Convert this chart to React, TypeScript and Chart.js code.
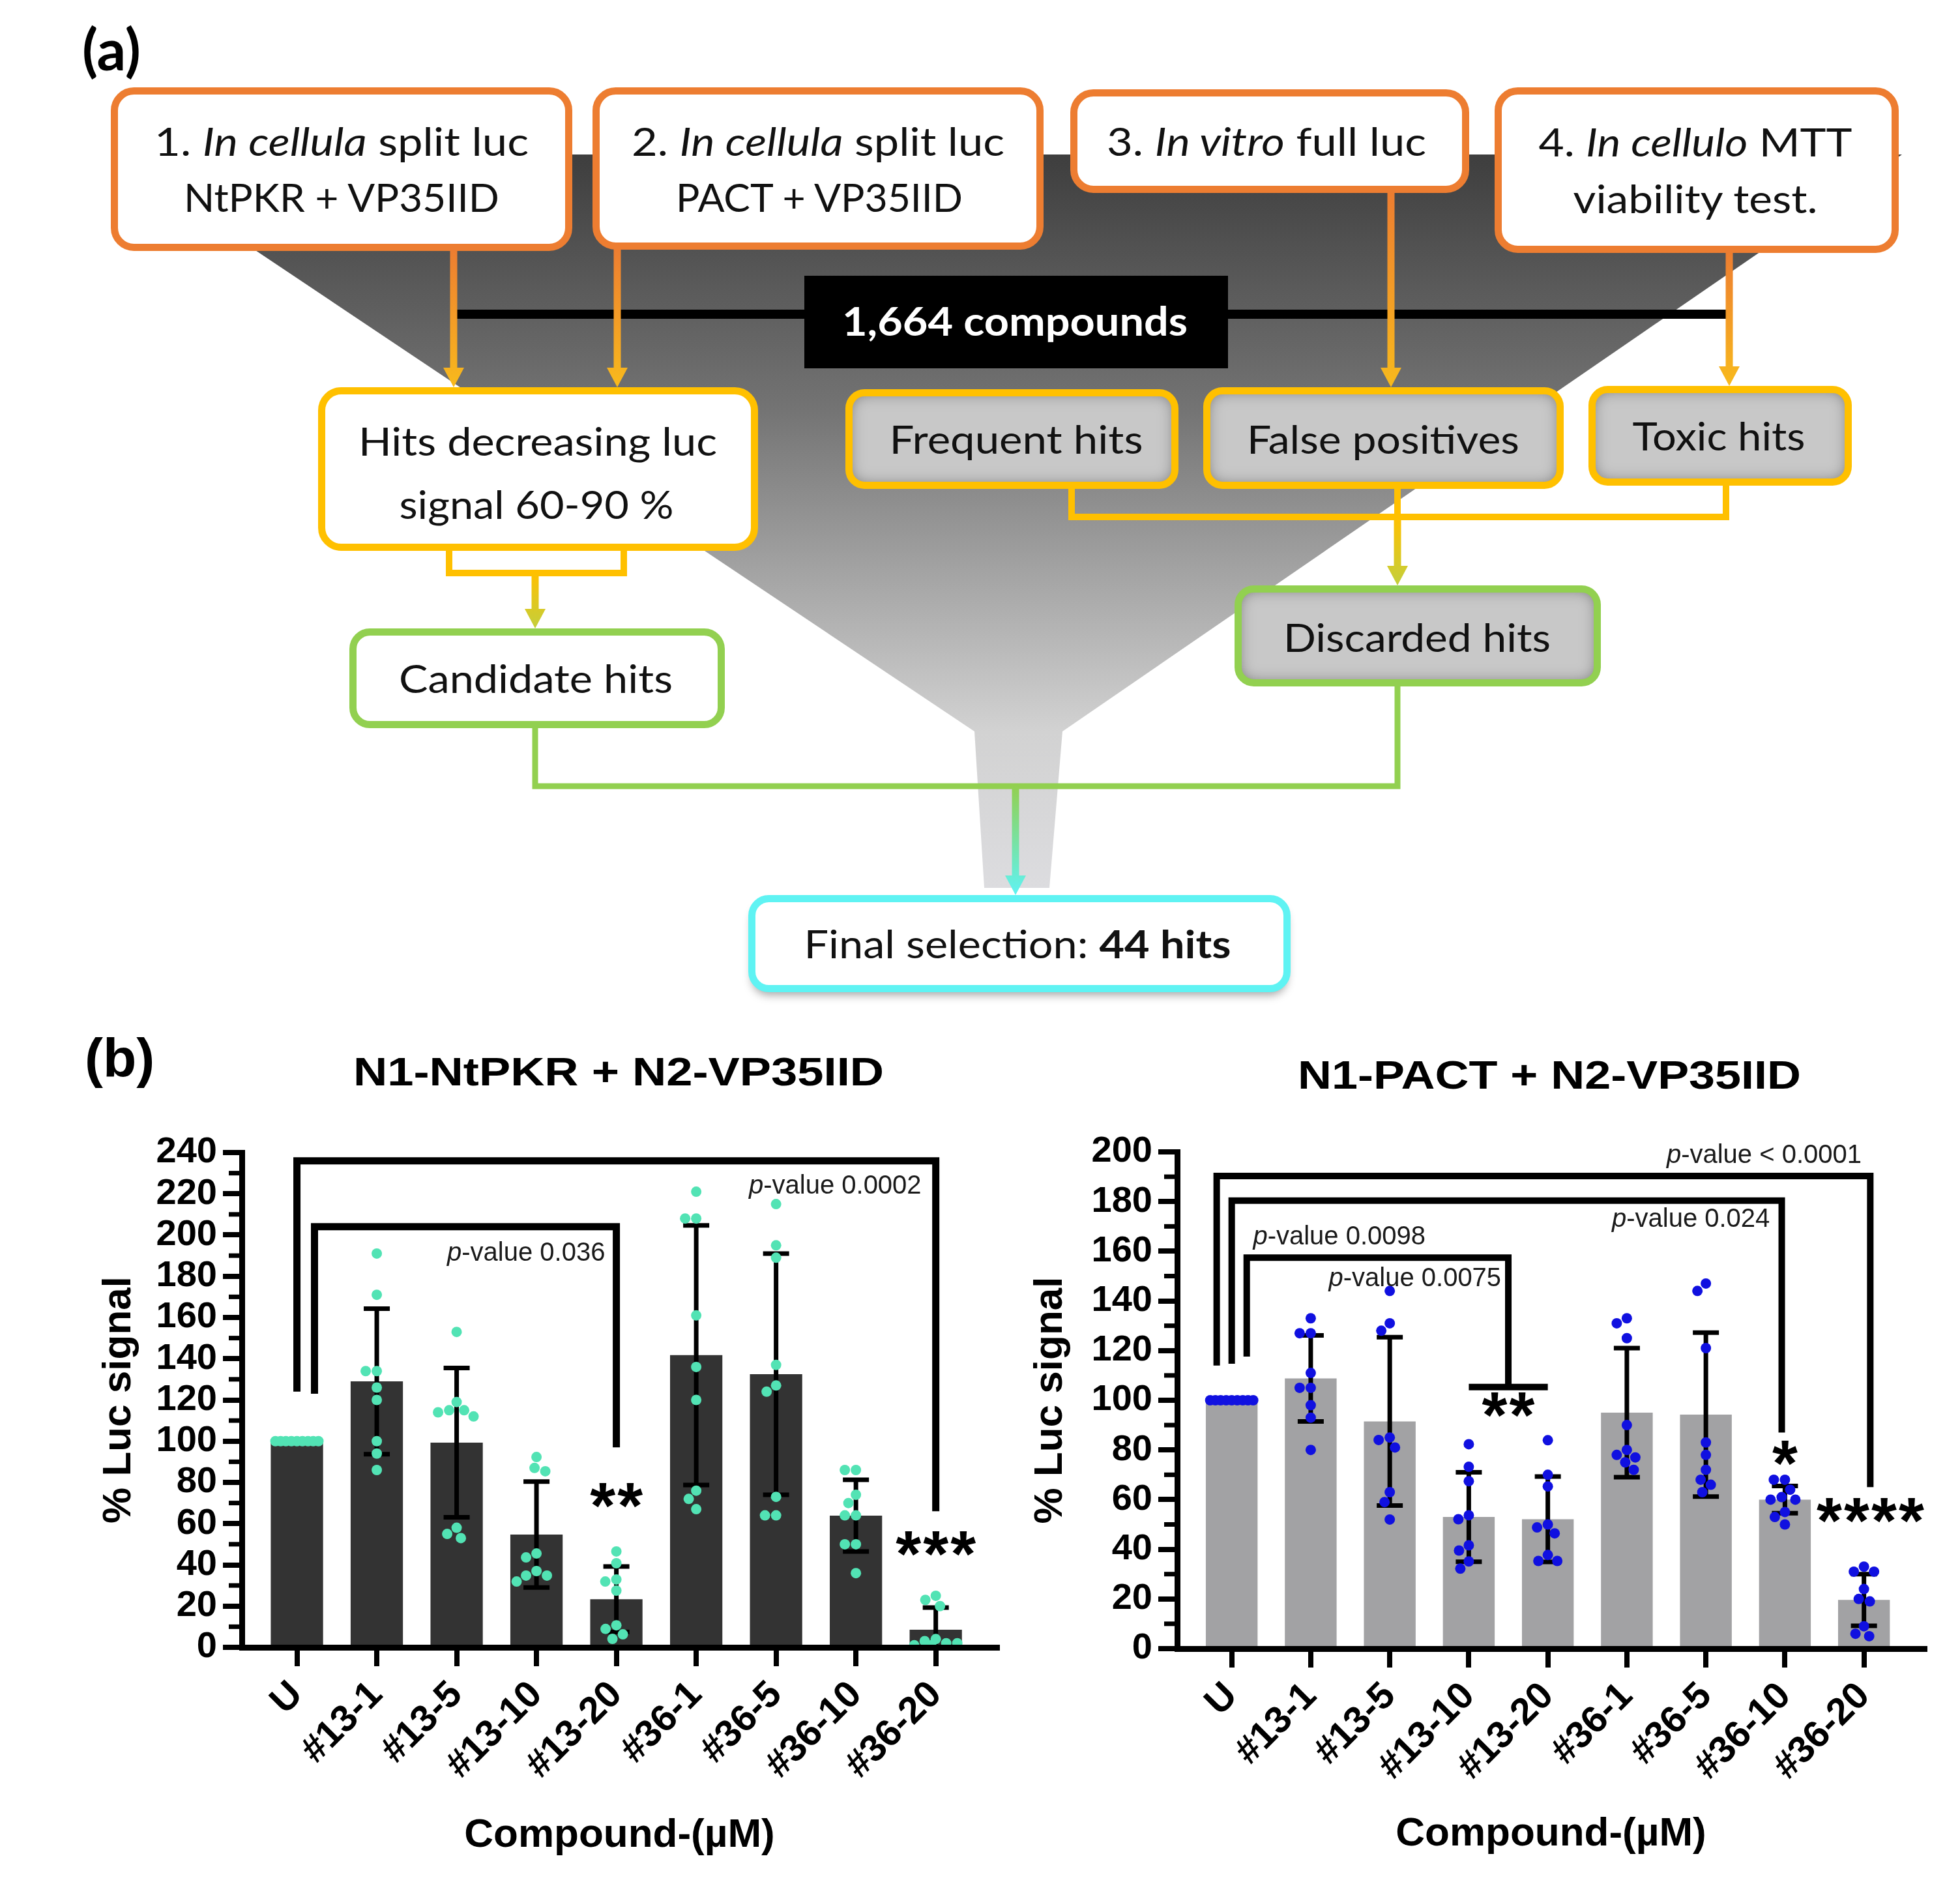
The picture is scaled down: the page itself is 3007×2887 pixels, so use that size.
import React, { useEffect, useRef } from 'react';
import { Chart, registerables } from 'chart.js';

Chart.register(...registerables);

const FONT = "'Liberation Sans', Arial, Helvetica, sans-serif";
const LATO = "Lato, 'Open Sans', sans-serif";

// ---------------- data ----------------
const categories = ['U', '#13-1', '#13-5', '#13-10', '#13-20', '#36-1', '#36-5', '#36-10', '#36-20'];

// N1-NtPKR + N2-VP35IID
const ntpkrMeans = [100, 129, 99.3, 54.7, 23.3, 141.7, 132.5, 63.9, 8.5];
const ntpkrSD = [0, 35.3, 36.2, 25.7, 15.9, 63, 58.5, 17.4, 10.8];
const ntpkrDots = [
  [100, 100, 100, 100, 100, 100, 100, 100, 100],
  [191, 171, 134, 134, 126, 120, 100, 94, 86],
  [153, 119, 115, 115, 114, 112, 58, 55, 53],
  [92.3, 87, 85.4, 45.5, 43.6, 37, 34.8, 34.8, 31.9],
  [46.5, 40.8, 32.9, 31.9, 27.5, 10.7, 8.9, 6.3, 4.1],
  [221, 208, 208, 161, 136, 120, 76, 72, 67],
  [215, 195, 189, 137, 127, 124, 73, 64, 64],
  [86, 86, 74, 70, 64, 64, 50, 50, 36],
  [25, 23, 20, 4, 3, 2, 2, 1, 1],
];
const ntpkrBrackets = [
  { from: 0, to: 8, top: 236, leftEnd: 124, rightEnd: 66 },
  { from: 0.22, to: 4, top: 204, leftEnd: 123, rightEnd: 97 },
];
const ntpkrHBars: { from: number; to: number; y: number }[] = [];
const ntpkrPLabels = [
  { text: 'p-value 0.0002', x: 7.82, y: 220, align: 'right' },
  { text: 'p-value 0.036', x: 3.86, y: 187.5, align: 'right' },
];
const ntpkrStars = [
  { text: '**', x: 4, y: 69.6 },
  { text: '***', x: 8, y: 46.2 },
];

// N1-PACT + N2-VP35IID
const pactMeans = [100, 108.8, 91.5, 53, 52.1, 95, 94.2, 60, 19.6];
const pactSD = [0, 17.3, 33.9, 18, 17.2, 26, 33, 5.5, 10.4];
const pactDots = [
  [100, 100, 100, 100, 100, 100, 100, 100, 100],
  [133, 127, 127, 111, 105, 105, 98, 93, 80],
  [144, 131, 128, 85, 84, 81, 63, 59, 52],
  [82.3, 73.2, 67.4, 53.7, 52.1, 41.6, 39.5, 35.1, 32.2],
  [83.9, 70, 65.3, 50, 48.8, 46.4, 37.7, 35.3, 35.3],
  [133, 131, 125, 90, 80, 78, 77, 75, 72],
  [147, 144, 121, 83, 78, 72, 68, 66, 63],
  [68, 68, 64, 61, 60, 60, 55, 53, 50],
  [33, 31, 31, 24, 20, 19, 9, 6, 5],
];
const pactBrackets = [
  { from: -0.19, to: 8.08, top: 190.3, leftEnd: 114, rightEnd: 65 },
  { from: 0, to: 6.96, top: 180.4, leftEnd: 114.7, rightEnd: 87 },
  { from: 0.19, to: 3.5, top: 157.4, leftEnd: 117.6, rightEnd: 105.3 },
];
const pactHBars = [{ from: 3, to: 4, y: 105.3 }];
const pactPLabels = [
  { text: 'p-value < 0.0001', x: 7.97, y: 195.6, align: 'right' },
  { text: 'p-value 0.024', x: 6.81, y: 169.7, align: 'right' },
  { text: 'p-value 0.0098', x: 0.27, y: 162.7, align: 'left' },
  { text: 'p-value 0.0075', x: 3.41, y: 146, align: 'right' },
];
const pactStars = [
  { text: '**', x: 3.5, y: 94.7 },
  { text: '*', x: 7, y: 75.3 },
  { text: '****', x: 8.08, y: 52.2 },
];

// ---------------- chart panel ----------------
interface PanelSpec {
  left: number; top: number; width: number; height: number;
  area: { left: number; top: number; right: number; bottom: number };
  yMax: number;
  means: number[]; sds: number[]; dots: number[][];
  barColor: string; dotColor: string;
  brackets: { from: number; to: number; top: number; leftEnd: number; rightEnd: number }[];
  hbars: { from: number; to: number; y: number }[];
  labels: { text: string; x: number; y: number; align: string }[];
  stars: { text: string; x: number; y: number }[];
  yTitlePad: number; xTitlePad: number;
  bracketWidth: number;
}

function makeSwarmPlugin(radius: number, maxHalf: number) {
  return {
    id: 'swarm',
    afterDatasetsUpdate(chart: any) {
      const d = 2 * radius + 1;
      chart.data.datasets.forEach((ds: any, di: number) => {
        if (ds.type !== 'scatter') return;
        const meta = chart.getDatasetMeta(di);
        const groups = new Map<number, number[]>();
        ds.data.forEach((p: any, k: number) => {
          const g = groups.get(p.x) || [];
          g.push(k);
          groups.set(p.x, g);
        });
        groups.forEach((ks) => {
          const els = ks.map((k) => meta.data[k]);
          const baseX = els[0].x;
          const order = els.map((_: any, j: number) => j).sort((a: number, b: number) => els[a].y - els[b].y);
          const placed: { x: number; y: number }[] = [];
          const minDist = (xo: number, y: number) => {
            let m = Infinity;
            for (const p of placed) m = Math.min(m, Math.hypot(xo - p.x, y - p.y));
            return m;
          };
          for (const j of order) {
            const y = els[j].y;
            let chosen: number | null = null;
            for (let off = 0; off <= maxHalf && chosen === null; off += 0.5) {
              let signs = [0];
              if (off > 0) {
                let bal = 0;
                for (const p of placed) if (Math.abs(p.y - y) < d) bal += p.x;
                signs = bal > 0 ? [-1, 1] : [1, -1];
                if (bal === 0) signs = [-1, 1];
              }
              for (const s of signs) {
                const xo = s * off;
                if (minDist(xo, y) >= d) { chosen = xo; break; }
              }
            }
            if (chosen === null) {
              let best = 0, bestScore = -1;
              for (let xo = -maxHalf; xo <= maxHalf; xo += 0.5) {
                const sc = minDist(xo, y);
                if (sc > bestScore + 1e-9) { bestScore = sc; best = xo; }
              }
              chosen = best;
            }
            placed.push({ x: chosen, y });
            els[j].x = baseX + chosen;
          }
        });
      });
    },
  };
}

function BarPanel({ spec }: { spec: PanelSpec }) {
  const ref = useRef<HTMLCanvasElement | null>(null);
  useEffect(() => {
    if (!ref.current) return;
    const { area, width, height } = spec;

    const errorPlugin = {
      id: 'errbars',
      afterDatasetDraw(chart: any, args: any) {
        if (args.index !== 0) return;
        const { ctx, scales } = chart;
        const x = scales.x, y = scales.y;
        ctx.save();
        ctx.strokeStyle = '#000';
        ctx.lineWidth = 7;
        ctx.lineCap = 'butt';
        spec.means.forEach((m, i) => {
          const sd = spec.sds[i];
          if (!sd) return;
          const px = x.getPixelForValue(i);
          const yt = y.getPixelForValue(m + sd);
          const lo = Math.max(m - sd, 0);
          const yb = y.getPixelForValue(lo);
          ctx.beginPath();
          ctx.moveTo(px, yt);
          ctx.lineTo(px, yb);
          ctx.stroke();
          ctx.beginPath();
          ctx.moveTo(px - 20, yt);
          ctx.lineTo(px + 20, yt);
          if (m - sd > 0) {
            ctx.moveTo(px - 20, yb);
            ctx.lineTo(px + 20, yb);
          }
          ctx.stroke();
        });
        ctx.restore();
      },
    };

    const annotPlugin = {
      id: 'annot',
      afterDraw(chart: any) {
        const { ctx, scales, chartArea } = chart;
        const x = scales.x, y = scales.y;
        ctx.save();
        // minor ticks
        ctx.strokeStyle = '#000';
        ctx.lineWidth = 7;
        for (let v = 10; v < spec.yMax; v += 20) {
          const py = y.getPixelForValue(v);
          ctx.beginPath();
          ctx.moveTo(chartArea.left - 20, py);
          ctx.lineTo(chartArea.left, py);
          ctx.stroke();
        }
        // brackets
        ctx.lineWidth = spec.bracketWidth;
        ctx.lineJoin = 'miter';
        ctx.lineCap = 'butt';
        spec.brackets.forEach((b) => {
          ctx.beginPath();
          ctx.moveTo(x.getPixelForValue(b.from), y.getPixelForValue(b.leftEnd));
          ctx.lineTo(x.getPixelForValue(b.from), y.getPixelForValue(b.top));
          ctx.lineTo(x.getPixelForValue(b.to), y.getPixelForValue(b.top));
          ctx.lineTo(x.getPixelForValue(b.to), y.getPixelForValue(b.rightEnd));
          ctx.stroke();
        });
        spec.hbars.forEach((h) => {
          ctx.beginPath();
          ctx.moveTo(x.getPixelForValue(h.from), y.getPixelForValue(h.y));
          ctx.lineTo(x.getPixelForValue(h.to), y.getPixelForValue(h.y));
          ctx.stroke();
        });
        // p-value labels
        const pFont = `italic 40px ${FONT}`;
        const rFont = `40px ${FONT}`;
        ctx.fillStyle = '#1a1a1a';
        ctx.textBaseline = 'alphabetic';
        ctx.textAlign = 'left';
        spec.labels.forEach((l) => {
          ctx.font = pFont;
          const wp = ctx.measureText('p').width;
          const rest = l.text.slice(1);
          ctx.font = rFont;
          const wr = ctx.measureText(rest).width;
          const px = x.getPixelForValue(l.x);
          const py = y.getPixelForValue(l.y);
          const x0 = l.align === 'right' ? px - wp - wr : px;
          ctx.font = pFont;
          ctx.fillText('p', x0, py);
          ctx.font = rFont;
          ctx.fillText(rest, x0 + wp, py);
        });
        // asterisks
        ctx.fillStyle = '#000';
        const starSize = 100;
        ctx.font = `bold ${starSize}px ${FONT}`;
        ctx.textAlign = 'center';
        spec.stars.forEach((s) => {
          const n = s.text.length;
          const px = x.getPixelForValue(s.x);
          const py = y.getPixelForValue(s.y);
          for (let k = 0; k < n; k++) {
            ctx.fillText('*', px + (k - (n - 1) / 2) * 42, py + 0.37 * starSize);
          }
        });
        ctx.restore();
      },
    };

    const chart = new Chart(ref.current, {
      type: 'bar',
      data: {
        datasets: [
          {
            type: 'bar',
            data: spec.means.map((m, i) => ({ x: i, y: m })),
            backgroundColor: spec.barColor,
            borderWidth: 0,
            barPercentage: 0.655,
            categoryPercentage: 1,
            order: 2,
          } as any,
          {
            type: 'scatter',
            data: spec.dots.flatMap((arr, i) => arr.map((v) => ({ x: i, y: v }))),
            backgroundColor: spec.dotColor,
            pointBackgroundColor: spec.dotColor,
            pointBorderWidth: 0,
            borderWidth: 0,
            pointRadius: 8,
            pointHoverRadius: 8,
            order: 1,
          } as any,
        ],
      },
      options: {
        responsive: false,
        animation: false,
        devicePixelRatio: 1,
        events: [],
        layout: { padding: { left: 0, top: area.top, right: width - area.right, bottom: 0 } },
        plugins: {
          legend: { display: false },
          tooltip: { enabled: false },
          title: { display: false },
        },
        scales: {
          x: {
            type: 'linear',
            offset: false,
            min: -0.69,
            max: 8.77,
            afterBuildTicks: (scale: any) => {
              scale.ticks = categories.map((_, i) => ({ value: i }));
            },
            afterFit: (scale: any) => {
              scale.height = height - area.bottom;
            },
            ticks: {
              autoSkip: false,
              minRotation: 45,
              maxRotation: 45,
              padding: 10,
              color: '#000',
              font: { family: FONT, size: 58, weight: 'bold' },
              callback: (v: any) => categories[v as number] ?? '',
            },
            grid: {
              display: true,
              offset: false,
              drawOnChartArea: false,
              drawTicks: true,
              tickLength: 29,
              lineWidth: 8,
              color: '#000',
              z: 1,
            },
            border: { display: true, width: 9, color: '#000', z: 1 },
            title: {
              display: true,
              text: 'Compound-(µM)',
              color: '#000',
              font: { family: FONT, size: 62, weight: 'bold' },
              padding: { top: 0, bottom: spec.xTitlePad },
            },
          },
          y: {
            type: 'linear',
            min: 0,
            max: spec.yMax,
            afterFit: (scale: any) => {
              scale.width = area.left;
            },
            ticks: {
              stepSize: 20,
              autoSkip: false,
              padding: 9,
              color: '#000',
              font: { family: FONT, size: 56, weight: 'bold' },
            },
            grid: {
              display: true,
              drawOnChartArea: false,
              drawTicks: true,
              tickLength: 29,
              lineWidth: 8,
              color: '#000',
              z: 1,
            },
            border: { display: true, width: 9, color: '#000', z: 1 },
            title: {
              display: true,
              text: '% Luc signal',
              color: '#000',
              font: { family: FONT, size: 62, weight: 'bold' },
              padding: { top: spec.yTitlePad, bottom: 0 },
            },
          },
        },
      } as any,
      plugins: [makeSwarmPlugin(8, 33), errorPlugin, annotPlugin],
    });
    return () => chart.destroy();
  }, [spec]);
  return (
    <canvas
      ref={ref}
      width={spec.width}
      height={spec.height}
      style={{ position: 'absolute', left: spec.left, top: spec.top, width: spec.width, height: spec.height }}
    />
  );
}

const leftSpec: PanelSpec = {
  left: 100, top: 1700, width: 1480, height: 1187,
  area: { left: 271, top: 68, right: 1430, bottom: 827 },
  yMax: 240,
  means: ntpkrMeans, sds: ntpkrSD, dots: ntpkrDots,
  barColor: '#333333', dotColor: '#52E3B4',
  brackets: ntpkrBrackets, hbars: ntpkrHBars, labels: ntpkrPLabels, stars: ntpkrStars,
  yTitlePad: 46, xTitlePad: 34, bracketWidth: 11,
};

const rightSpec: PanelSpec = {
  left: 1560, top: 1700, width: 1447, height: 1187,
  area: { left: 246, top: 67, right: 1393, bottom: 829 },
  yMax: 200,
  means: pactMeans, sds: pactSD, dots: pactDots,
  barColor: '#A2A2A4', dotColor: '#1010E0',
  brackets: pactBrackets, hbars: pactHBars, labels: pactPLabels, stars: pactStars,
  yTitlePad: 15, xTitlePad: 36, bracketWidth: 10,
};

// ---------------- flowchart (panel a) ----------------
function arrowPath(x: number, y0: number, tip: number, w = 11, hw = 32, hl = 30) {
  const yh = tip - hl;
  return `M ${x - w / 2} ${y0} L ${x + w / 2} ${y0} L ${x + w / 2} ${yh} L ${x + hw / 2} ${yh} L ${x} ${tip} L ${x - hw / 2} ${yh} L ${x - w / 2} ${yh} Z`;
}

function Box({ x1, y1, x2, y2, stroke, gray, r = 30, sw = 11, shadow }: any) {
  const x = x1 + sw / 2, y = y1 + sw / 2, w = x2 - x1 - sw, h = y2 - y1 - sw;
  return (
    <g>
      <rect x={x} y={y} width={w} height={h} rx={r} ry={r} fill={gray ? '#c8c8c8' : '#ffffff'}
        filter={gray ? 'url(#inset)' : shadow ? 'url(#drop)' : undefined} />
      <rect x={x} y={y} width={w} height={h} rx={r} ry={r} fill="none" stroke={stroke} strokeWidth={sw} />
    </g>
  );
}

const ORANGE = '#ED7D31';
const YELLOW = '#FFC000';
const GREEN = '#92D050';
const CYAN = '#5FF3F3';

function Flowchart() {
  const t = (props: any) => ({ fontFamily: LATO, fontSize: 60, fill: '#111', textAnchor: 'middle', lengthAdjust: 'spacingAndGlyphs', ...props });
  return (
    <svg width={3007} height={2887} style={{ position: 'absolute', left: 0, top: 0 }}>
      <defs>
        <linearGradient id="funnelGrad" gradientUnits="userSpaceOnUse" x1="0" y1="237" x2="0" y2="1362">
          <stop offset="0" stopColor="#3e3e3e" />
          <stop offset="0.35" stopColor="#747474" />
          <stop offset="0.787" stopColor="#d2d2d2" />
          <stop offset="1" stopColor="#dcdcdf" />
        </linearGradient>
        <linearGradient id="oy" x1="0" y1="0" x2="0" y2="1">
          <stop offset="0" stopColor="#ED7D31" />
          <stop offset="1" stopColor="#F8BA1C" />
        </linearGradient>
        <linearGradient id="yg" x1="0" y1="0" x2="0" y2="1">
          <stop offset="0" stopColor="#FFC000" />
          <stop offset="1" stopColor="#C3CF3C" />
        </linearGradient>
        <linearGradient id="gc" x1="0" y1="0" x2="0" y2="1">
          <stop offset="0" stopColor="#92D050" />
          <stop offset="1" stopColor="#5FF3F3" />
        </linearGradient>
        <filter id="inset" x="-10%" y="-20%" width="120%" height="140%">
          <feFlood floodColor="#000" floodOpacity="0.9" result="f" />
          <feComposite in="f" in2="SourceAlpha" operator="out" result="outside" />
          <feGaussianBlur in="outside" stdDeviation="12" result="blur" />
          <feComposite in="blur" in2="SourceAlpha" operator="in" result="inner" />
          <feMerge>
            <feMergeNode in="SourceGraphic" />
            <feMergeNode in="inner" />
          </feMerge>
        </filter>
        <filter id="drop" x="-10%" y="-20%" width="120%" height="160%">
          <feDropShadow dx="0" dy="10" stdDeviation="7" floodColor="#000" floodOpacity="0.35" />
        </filter>
      </defs>

      {/* funnel */}
      <polygon points="172,237 2918,237 1630,1122 1610,1362 1510,1362 1495,1122" fill="url(#funnelGrad)" />

      {/* black line */}
      <line x1={696} y1={482} x2={2653} y2={482} stroke="#000" strokeWidth={14} />

      {/* connectors */}
      <polyline points="689,845 689,879 957,879 957,845" fill="none" stroke={YELLOW} strokeWidth={10} />
      <polyline points="1644,748 1644,793 2648,793 2648,743" fill="none" stroke={YELLOW} strokeWidth={10} />
      <line x1={2144} y1={748} x2={2144} y2={793} stroke={YELLOW} strokeWidth={10} />
      <polyline points="821,1115 821,1206 2144,1206 2144,1051" fill="none" stroke={GREEN} strokeWidth={9} />

      {/* arrows */}
      <path d={arrowPath(696, 383, 594)} fill="url(#oy)" />
      <path d={arrowPath(947, 381, 594)} fill="url(#oy)" />
      <path d={arrowPath(2134, 294, 594)} fill="url(#oy)" />
      <path d={arrowPath(2653, 386, 592)} fill="url(#oy)" />
      <path d={arrowPath(821, 879, 964)} fill="url(#yg)" />
      <path d={arrowPath(2144, 793, 898)} fill="url(#yg)" />
      <path d={arrowPath(1558, 1206, 1373)} fill="url(#gc)" />

      {/* top boxes */}
      <Box x1={170} y1={134} x2={878} y2={385} stroke={ORANGE} />
      <Box x1={909} y1={134} x2={1601} y2={383} stroke={ORANGE} />
      <Box x1={1642} y1={137} x2={2254} y2={296} stroke={ORANGE} />
      <Box x1={2293} y1={134} x2={2913} y2={388} stroke={ORANGE} />

      {/* black compounds box */}
      <rect x={1234} y={423} width={650} height={142} fill="#000" />
      <text {...t({ x: 1557, y: 515, fill: '#fff', fontWeight: 'bold', fontSize: 62, textLength: 530 })}>1,664 compounds</text>

      {/* middle boxes */}
      <Box x1={488} y1={594} x2={1163} y2={845} stroke={YELLOW} />
      <Box x1={1297} y1={597} x2={1808} y2={750} stroke={YELLOW} gray r={24} />
      <Box x1={1846} y1={594} x2={2399} y2={750} stroke={YELLOW} gray r={24} />
      <Box x1={2437} y1={592} x2={2841} y2={745} stroke={YELLOW} gray r={24} />
      <Box x1={536} y1={964} x2={1112} y2={1117} stroke={GREEN} r={26} />
      <Box x1={1894} y1={898} x2={2456} y2={1053} stroke={GREEN} gray r={24} />
      <Box x1={1148} y1={1373} x2={1980} y2={1522} stroke={CYAN} r={26} shadow />

      {/* texts */}
      <text {...t({ x: 524, y: 239, textLength: 574 })}>1. <tspan fontStyle="italic">In cellula</tspan> split luc</text>
      <text {...t({ x: 524, y: 325, textLength: 484 })}>NtPKR + VP35IID</text>
      <text {...t({ x: 1255, y: 239, textLength: 572 })}>2. <tspan fontStyle="italic">In cellula</tspan> split luc</text>
      <text {...t({ x: 1257, y: 325, textLength: 440 })}>PACT + VP35IID</text>
      <text {...t({ x: 1943, y: 239, textLength: 490 })}>3. <tspan fontStyle="italic">In vitro</tspan> full luc</text>
      <text {...t({ x: 2601, y: 240, textLength: 481 })}>4. <tspan fontStyle="italic">In cellulo</tspan> MTT</text>
      <text {...t({ x: 2601, y: 327, textLength: 375 })}>viability test.</text>
      <text {...t({ x: 825, y: 699, textLength: 550 })}>Hits decreasing luc</text>
      <text {...t({ x: 823, y: 796, textLength: 421 })}>signal 60-90 %</text>
      <text {...t({ x: 1559, y: 696, textLength: 389 })}>Frequent hits</text>
      <text {...t({ x: 2122, y: 696, textLength: 418 })}>False positives</text>
      <text {...t({ x: 2637, y: 691, textLength: 265 })}>Toxic hits</text>
      <text {...t({ x: 822, y: 1063, textLength: 420 })}>Candidate hits</text>
      <text {...t({ x: 2174, y: 1000, textLength: 410 })}>Discarded hits</text>
      <text {...t({ x: 1561, y: 1470, textLength: 655 })}>Final selection: <tspan fontWeight="bold">44 hits</tspan></text>

      {/* panel labels */}
      <text x={126} y={108} fontFamily={LATO} fontWeight="bold" fontSize={88} fill="#000">(a)</text>
      <text x={130} y={1652} fontFamily={FONT} fontWeight="bold" fontSize={84} fill="#000">(b)</text>

      {/* chart titles */}
      <text x={949} y={1665} fontFamily={FONT} fontWeight="bold" fontSize={62} fill="#000" textAnchor="middle"
        textLength={814} lengthAdjust="spacingAndGlyphs">N1-NtPKR + N2-VP35IID</text>
      <text x={2377} y={1670} fontFamily={FONT} fontWeight="bold" fontSize={62} fill="#000" textAnchor="middle"
        textLength={772} lengthAdjust="spacingAndGlyphs">N1-PACT + N2-VP35IID</text>
    </svg>
  );
}

export default function App() {
  useEffect(() => {
    document.body.style.margin = '0';
    document.body.style.overflow = 'hidden';
  }, []);
  return (
    <div style={{ position: 'absolute', left: 0, top: 0, width: 3007, height: 2887, background: '#fff', overflow: 'hidden' }}>
      <Flowchart />
      <BarPanel spec={leftSpec} />
      <BarPanel spec={rightSpec} />
    </div>
  );
}
